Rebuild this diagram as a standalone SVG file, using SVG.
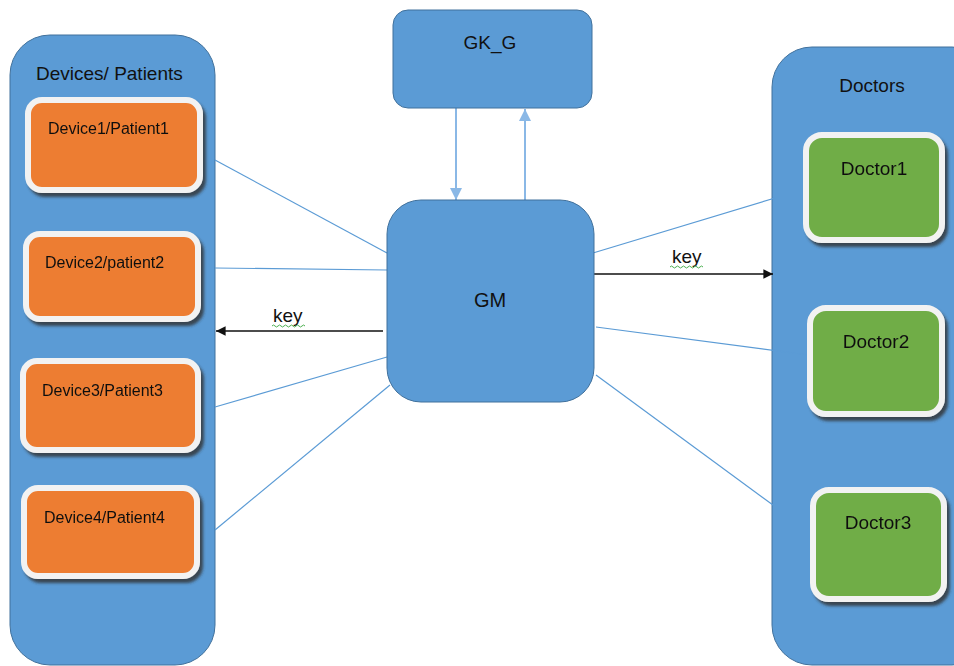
<svg xmlns="http://www.w3.org/2000/svg" width="954" height="666" viewBox="0 0 954 666">
<defs>
<style>
.cont{fill:#5B9BD5;stroke:#41719C;stroke-width:1}
.dev{fill:#ED7D31;stroke:#F2F2F2;stroke-width:6}
.doc{fill:#70AD47;stroke:#F2F2F2;stroke-width:6}
.hub{fill:#5B9BD5;stroke:#41719C;stroke-width:1}
.t{font-family:"Liberation Sans",Arial,sans-serif;fill:#111}
.ln{stroke:#5B9BD5;stroke-width:1.2;fill:none}
.ka{stroke:#111;stroke-width:1.6;fill:none}
.ga{stroke:#8AB8E6;stroke-width:2;fill:none}
.sq{stroke:#4CAF50;stroke-width:1;fill:none}
</style>
<filter id="sh" x="-10%" y="-10%" width="130%" height="140%">
<feDropShadow dx="3" dy="4" stdDeviation="1.5" flood-color="#333" flood-opacity="0.8"/>
</filter>
<marker id="ab" viewBox="0 0 10 10" refX="10" refY="5" markerWidth="6" markerHeight="6" markerUnits="strokeWidth" orient="auto-start-reverse">
<path d="M0,0 L10,5 L0,10 z" fill="#111"/>
</marker>
<marker id="ag" viewBox="0 0 10 10" refX="10" refY="5" markerWidth="6" markerHeight="6" markerUnits="strokeWidth" orient="auto-start-reverse">
<path d="M0,0 L10,5 L0,10 z" fill="#8AB8E6"/>
</marker>
</defs>

<g id="devices-container">
<rect class="cont" x="10" y="35" width="205" height="630" rx="40"/>
<text class="t" x="36" y="80" font-size="19">Devices/ Patients</text>
</g>
<g id="doctors-container">
<rect class="cont" x="772" y="47" width="220" height="618" rx="40"/>
<text class="t" x="872" y="92" font-size="19" text-anchor="middle">Doctors</text>
</g>

<g id="connectors">
<line class="ln" x1="215" y1="160" x2="387" y2="253"/>
<line class="ln" x1="215" y1="268" x2="387" y2="270"/>
<line class="ln" x1="215" y1="407" x2="387" y2="357"/>
<line class="ln" x1="215" y1="530" x2="390" y2="385"/>
<line class="ln" x1="593" y1="253" x2="775" y2="198"/>
<line class="ln" x1="596" y1="327" x2="808" y2="355"/>
<line class="ln" x1="596" y1="375" x2="773" y2="505"/>
<line class="ka" x1="383" y1="331" x2="216" y2="331" marker-end="url(#ab)"/>
<text class="t" x="273" y="322" font-size="19">key</text>
<path class="sq" d="M272,326 q1.5,-2 3,0 t3,0 t3,0 t3,0 t3,0 t3,0 t3,0 t3,0 t3,0 t3,0 t3,0"/>
<line class="ka" x1="594" y1="274" x2="773" y2="274" marker-end="url(#ab)"/>
<text class="t" x="672" y="263" font-size="19">key</text>
<path class="sq" d="M670,267 q1.5,-2 3,0 t3,0 t3,0 t3,0 t3,0 t3,0 t3,0 t3,0 t3,0 t3,0 t3,0"/>
<line class="ga" x1="456" y1="108" x2="456" y2="200" marker-end="url(#ag)"/>
<line class="ga" x1="525" y1="200" x2="525" y2="109" marker-end="url(#ag)"/>
</g>

<g id="gkg">
<rect class="hub" x="393" y="10" width="199" height="98" rx="15"/>
<text class="t" x="490" y="49" font-size="19" text-anchor="middle">GK_G</text>
</g>
<g id="gm">
<rect class="hub" x="387" y="200" width="207" height="202" rx="34"/>
<text class="t" x="490" y="307" font-size="20" text-anchor="middle">GM</text>
</g>

<g id="device1" filter="url(#sh)">
<rect class="dev" x="28" y="100" width="172" height="90" rx="14"/>
<text class="t" x="48" y="134" font-size="16">Device1/Patient1</text>
</g>
<g id="device2" filter="url(#sh)">
<rect class="dev" x="26" y="234" width="172" height="85" rx="14"/>
<text class="t" x="45" y="268" font-size="16">Device2/patient2</text>
</g>
<g id="device3" filter="url(#sh)">
<rect class="dev" x="23" y="361" width="175" height="89" rx="14"/>
<text class="t" x="42" y="396" font-size="16">Device3/Patient3</text>
</g>
<g id="device4" filter="url(#sh)">
<rect class="dev" x="24" y="488" width="173" height="88" rx="14"/>
<text class="t" x="44" y="523" font-size="16">Device4/Patient4</text>
</g>

<g id="doctor1" filter="url(#sh)">
<rect class="doc" x="806" y="135" width="136" height="105" rx="16"/>
<text class="t" x="874" y="175" font-size="19" text-anchor="middle">Doctor1</text>
</g>
<g id="doctor2" filter="url(#sh)">
<rect class="doc" x="810" y="308" width="132" height="106" rx="16"/>
<text class="t" x="876" y="348" font-size="19" text-anchor="middle">Doctor2</text>
</g>
<g id="doctor3" filter="url(#sh)">
<rect class="doc" x="813" y="490" width="131" height="109" rx="16"/>
<text class="t" x="878" y="529" font-size="19" text-anchor="middle">Doctor3</text>
</g>
</svg>
